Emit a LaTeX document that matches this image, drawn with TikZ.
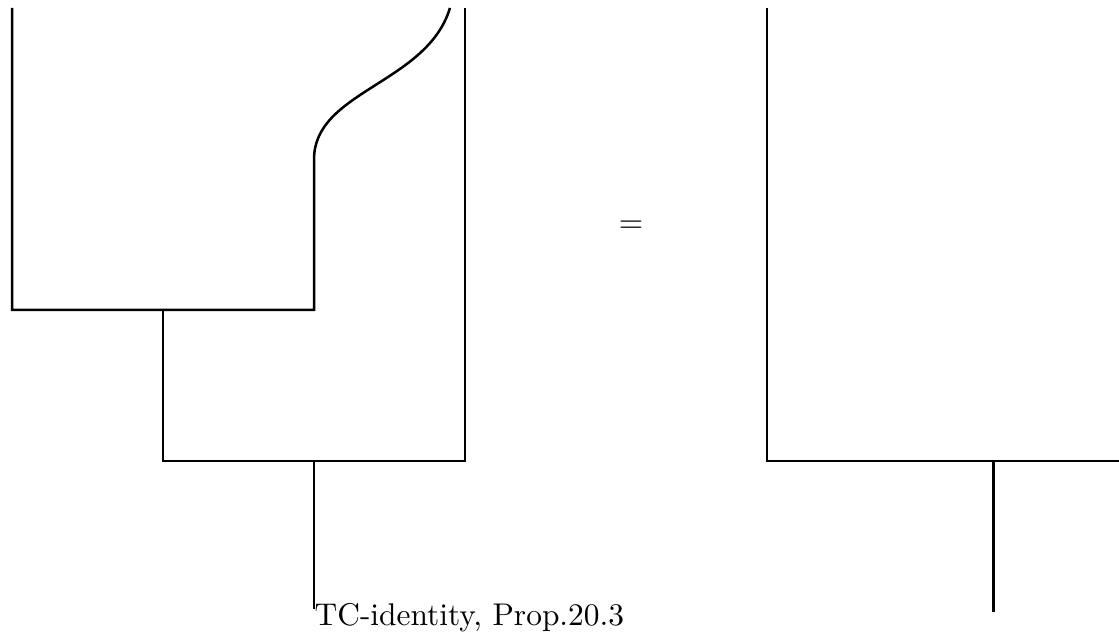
\documentclass[tikz,border=0pt]{standalone}
\usepackage{tikz}
\usetikzlibrary{positioning}
\tikzset{
  wire/.style={thick},
  caption/.style={anchor=north west, inner sep=0pt},
}
\begin{document}
\begin{tikzpicture}[x=1.69cm, y=1.69cm]
  \useasboundingbox (-0.08,-1.146) rectangle (7.331,3.053);
  % left side
  \coordinate (ltop) at (0,3);
  \coordinate (lcup) at (0,1);
  \coordinate (mcup) at (2,1);
  \coordinate (mbend) at (2,2);
  \coordinate (mtop) at (2.9,3);
  \coordinate (ljoin) at (1,1);
  \coordinate (lbot) at (1,0);
  \coordinate (rbot) at (3,0);
  \coordinate (rtop) at (3,3);
  \coordinate (ojoin) at (2,0);
  \coordinate (oend) at (2,-0.98);
  \draw[wire] (ltop) -- (lcup) -- (mcup) -- (mbend)
    .. controls (2,2.45) and (2.75,2.5) .. (mtop);
  \draw[wire] (ljoin) -- (lbot) -- (rbot) -- (rtop);
  \draw[wire] (ojoin) -- (oend);
  \node[caption] (label) at (2,-0.94) {TC-identity, Prop.20.3};
  % equals
  \node (eq) at (4.1,1.55) {$=$};
  % right side
  \coordinate (stop) at (5,3);
  \coordinate (sbot) at (5,0);
  \coordinate (send) at (7.331,0);
  \coordinate (sjoin) at (6.5,0);
  \coordinate (sout) at (6.5,-1);
  \draw[wire] (stop) -- (sbot) -- (send);
  \draw[wire] (sjoin) -- (sout);
\end{tikzpicture}
\end{document}
